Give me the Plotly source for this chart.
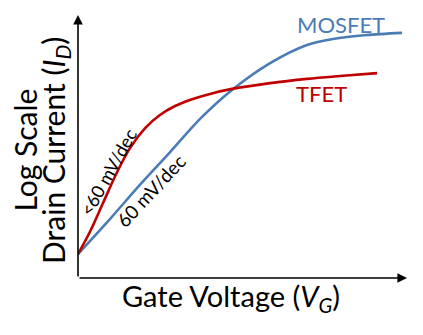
import plotly.graph_objects as go

# ---------------------------------------------------------
# DATA  (arbitrary units: gate voltage 0-10, log current 0-10)
# ---------------------------------------------------------
MOSFET_VG = [0.0, 0.97, 1.88, 2.80, 3.71, 4.68, 5.84, 6.96, 7.75, 8.78, 9.85]
MOSFET_LOGI = [0.91, 2.24, 3.54, 4.79, 6.05, 7.15, 8.17, 8.86, 9.09, 9.24, 9.32]

TFET_VG = [0.0, 0.36, 0.76, 1.19, 1.58, 2.04, 2.49, 2.95, 3.40, 4.01, 4.68,
           5.84, 6.96, 7.96, 9.09]
TFET_LOGI = [0.91, 1.75, 2.85, 4.03, 4.94, 5.70, 6.20, 6.54, 6.77, 7.00, 7.19,
             7.41, 7.57, 7.68, 7.79]

BLUE = "#4a7db5"
RED = "#c00000"
FONT = "Lato"

fig = go.Figure()
fig.add_trace(go.Scatter(
    x=MOSFET_VG, y=MOSFET_LOGI, mode="lines",
    line=dict(color=BLUE, width=2.6, shape="spline", smoothing=0.8),
    showlegend=False, hoverinfo="skip",
))
fig.add_trace(go.Scatter(
    x=TFET_VG, y=TFET_LOGI, mode="lines",
    line=dict(color=RED, width=2.6, shape="spline", smoothing=1.0),
    showlegend=False, hoverinfo="skip",
))

# axes with arrows
fig.add_annotation(x=10, y=0, ax=0, ay=0, xref="x", yref="y", axref="x", ayref="y",
                   showarrow=True, arrowhead=2, arrowsize=1.2, arrowwidth=1.6,
                   arrowcolor="black", text="")
fig.add_annotation(x=0, y=10, ax=0, ay=0, xref="x", yref="y", axref="x", ayref="y",
                   showarrow=True, arrowhead=2, arrowsize=1.2, arrowwidth=1.6,
                   arrowcolor="black", text="")

# curve labels
fig.add_annotation(x=7.99, y=9.62, text="MOSFET", showarrow=False,
                   xanchor="center", yanchor="middle",
                   font=dict(family=FONT, size=22, color=BLUE))
fig.add_annotation(x=7.39, y=7.0, text="TFET", showarrow=False,
                   xanchor="center", yanchor="middle",
                   font=dict(family=FONT, size=22, color=RED))
fig.add_annotation(x=0.92, y=4.03, text="&lt;60 mV/dec", showarrow=False, textangle=-61,
                   xanchor="center", yanchor="middle",
                   font=dict(family=FONT, size=18, color="black"))
fig.add_annotation(x=2.22, y=3.31, text="60 mV/dec", showarrow=False, textangle=-47,
                   xanchor="center", yanchor="middle",
                   font=dict(family=FONT, size=19, color="black"))

# axis titles
fig.add_annotation(x=0.465, y=-0.076, xref="paper", yref="paper", showarrow=False,
                   xanchor="center", yanchor="middle",
                   text="Gate Voltage (<i>V</i><sub><i>G</i></sub>)",
                   font=dict(family=FONT, size=29, color="black"))
fig.add_annotation(x=-0.161, y=0.485, xref="paper", yref="paper", showarrow=False,
                   xanchor="center", yanchor="middle", textangle=-90,
                   text="Log Scale",
                   font=dict(family=FONT, size=30, color="black"))
fig.add_annotation(x=-0.070, y=0.487, xref="paper", yref="paper", showarrow=False,
                   xanchor="center", yanchor="middle", textangle=-90,
                   text="Drain Current (<i>I</i><sub><i>D</i></sub>)",
                   font=dict(family=FONT, size=30, color="black"))

fig.update_xaxes(range=[0, 10], visible=False)
fig.update_yaxes(range=[0, 10], visible=False)
# page body has an 8px margin: shrink the figure so the plot area lands on
# the same pixels as the reference
fig.update_layout(
    width=415, height=327,
    margin=dict(l=70, r=16, t=7, b=57),
    paper_bgcolor="white", plot_bgcolor="white",
)
fig.write_html("out.html")
